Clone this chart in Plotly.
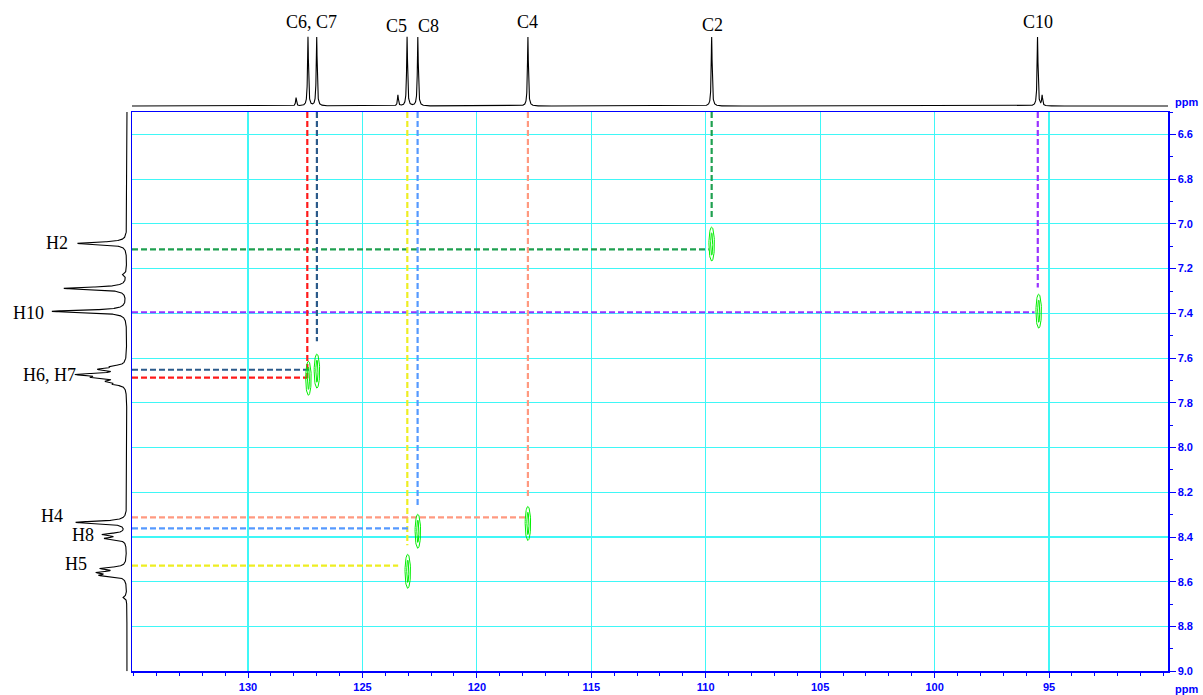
import numpy as np
import plotly.graph_objects as go

# ---------------- data ----------------
# 13C 1D spectrum (top) peak list: ppm, relative height
c_shift = [127.90, 127.38, 127.00, 123.45, 123.05, 122.58, 117.77, 109.74, 95.50, 95.30]
c_height = [0.12, 1.0, 1.0, 0.16, 1.0, 1.0, 1.0, 1.0, 1.0, 0.15]

# 1H 1D spectrum (left) peak list: ppm, relative height
h_shift = [7.087, 7.226, 7.288, 7.391, 7.637, 7.650, 7.673, 7.686, 7.704, 7.717,
           8.334, 8.388, 8.406, 8.540, 8.558, 8.571, 8.669]
h_height = [0.66, 0.05, 0.84, 1.0, 0.15, 0.32, 0.60, 0.35, 0.21, 0.13,
            0.68, 0.30, 0.27, 0.32, 0.33, 0.31, 0.05]

# HSQC cross peaks (C ppm, H ppm)
xpk_c = [109.74, 95.45, 127.36, 126.99, 122.58, 117.77, 123.02]
xpk_h = [7.090, 7.390, 7.690, 7.658, 8.374, 8.339, 8.553]

# correlation guide lines
guide_names = ["C2", "C10", "C6", "C7", "C5", "C8", "C4"]
guide_colors = ["#1fa050", "#9933ff", "#ff1a1a", "#2b5a8a", "#eeee22", "#5599ff", "#ff9980"]
guide_c = [109.74, 95.49, 127.41, 126.99, 123.04, 122.59, 117.77]      # vertical line x
guide_c_end = [6.971, 7.284, 7.690, 7.525, 8.437, 8.261, 8.217]        # vertical line ends (H ppm)
guide_h = [7.114, 7.395, 7.687, 7.652, 8.528, 8.361, 8.312]            # horizontal line y
guide_h_end = [109.87, 95.63, 127.42, 127.22, 123.44, 122.93, 117.77]  # horizontal line ends (C ppm)

x_ticks = [130, 125, 120, 115, 110, 105, 100, 95]
y_ticks = [6.6, 6.8, 7.0, 7.2, 7.4, 7.6, 7.8, 8.0, 8.2, 8.4, 8.6, 8.8, 9.0]

c_labels = ["C6, C7", "C5", "C8", "C4", "C2", "C10"]
h_labels = ["H2", "H10", "H6, H7", "H4", "H8", "H5"]

# ---------------- geometry ----------------
W = 1203
S = 0.991                 # vertical scale of the captured page
H = 701
X_RANGE = [135.07, 89.80]
Y_RANGE = [9.0, 6.5]
px = lambda v: v / W
py = lambda v: 1 - (v / S) / H

BLUE = "#0000ff"
GRID = "#3ff7f7"

fig = go.Figure()

# 13C spectrum line (Lorentzian lines from peak list)
cx = np.linspace(X_RANGE[0], X_RANGE[1], 14000)
cy = np.zeros_like(cx)
gc = 0.024
for s, h in zip(c_shift, c_height):
    cy += h * gc**2 / ((cx - s) ** 2 + gc**2)
fig.add_trace(go.Scatter(x=cx, y=cy, mode="lines", xaxis="x2", yaxis="y2",
                         line=dict(color="black", width=1.1), hoverinfo="skip", showlegend=False))

# 1H spectrum line
hy = np.linspace(Y_RANGE[1], Y_RANGE[0], 9000)
hx = np.zeros_like(hy)
gh = 0.006
for s, h in zip(h_shift, h_height):
    hx += h * gh**2 / ((hy - s) ** 2 + gh**2)
fig.add_trace(go.Scatter(x=hx, y=hy, mode="lines", xaxis="x3", yaxis="y3",
                         line=dict(color="black", width=1.1), hoverinfo="skip", showlegend=False))

# guide lines
for name, col, c0, ce, h0, he in zip(guide_names, guide_colors, guide_c, guide_c_end, guide_h, guide_h_end):
    xs = [c0, c0, None, X_RANGE[0], he]
    ys = [Y_RANGE[1], ce, None, h0, h0]
    fig.add_trace(go.Scatter(x=xs, y=ys, mode="lines", name=name,
                             line=dict(color=col, width=2.2, dash="6px,3px"),
                             hoverinfo="skip", showlegend=False))

# cross peak contours
t = np.linspace(0, 2 * np.pi, 60)
ex, ey = [], []
for c, h in zip(xpk_c, xpk_h):
    for rx, ry in [(0.12, 0.076), (0.045, 0.05)]:
        ex += list(c + rx * np.cos(t)) + [None]
        ey += list(h + ry * np.sin(t)) + [None]
fig.add_trace(go.Scatter(x=ex, y=ey, mode="lines", line=dict(color="#00ee00", width=1),
                         hoverinfo="skip", showlegend=False))

tickfont = dict(family="Arial", size=11, color=BLUE, weight="bold")

fig.update_layout(
    width=W, height=H, autosize=False,
    margin=dict(l=0, r=0, t=0, b=0),
    paper_bgcolor="white", plot_bgcolor="white",
    xaxis=dict(domain=[px(132), px(1168)], range=X_RANGE, anchor="y",
               tickvals=x_ticks, ticktext=[str(v) for v in x_ticks],
               showgrid=True, gridcolor=GRID, gridwidth=1.2,
               showline=True, linecolor=BLUE, linewidth=1.5, mirror=True,
               ticks="outside", ticklen=5, tickcolor=BLUE, tickwidth=1,
               minor=dict(dtick=1, ticks="outside", ticklen=3, tickcolor=BLUE, showgrid=False),
               tickfont=tickfont, zeroline=False),
    yaxis=dict(domain=[py(671), py(112)], range=Y_RANGE, anchor="x", side="right",
               tickvals=y_ticks, ticktext=[f"{v:.1f}" for v in y_ticks],
               showgrid=True, gridcolor=GRID, gridwidth=1.2,
               showline=True, linecolor=BLUE, linewidth=1.5, mirror=True,
               ticks="outside", ticklen=6, tickcolor=BLUE, tickwidth=1,
               minor=dict(dtick=0.1, tick0=6.5, ticks="outside", ticklen=3, tickcolor=BLUE, showgrid=False),
               tickfont=tickfont, zeroline=False),
    xaxis2=dict(domain=[px(132), px(1168)], range=X_RANGE, anchor="y2", matches="x",
                visible=False, showgrid=False),
    yaxis2=dict(domain=[py(112), py(20)], range=[-0.087, 1.246], anchor="x2",
                visible=False, showgrid=False),
    xaxis3=dict(domain=[px(8), px(132)], range=[1.59, -0.067], anchor="y3",
                visible=False, showgrid=False),
    yaxis3=dict(domain=[py(671), py(112)], range=Y_RANGE, anchor="x3", matches="y",
                visible=False, showgrid=False),
)

serif = dict(family="Liberation Serif", size=18, color="black")
c_pos = [(311, 22), (396, 26), (428, 26), (527, 22), (712, 25), (1038, 22)]
h_pos = [(57, 243), (28, 313), (49, 375), (52, 516), (83, 535), (76, 564)]
for txt, (x0, y0) in zip(c_labels, c_pos):
    fig.add_annotation(text=txt, x=px(x0), y=py(y0), xref="paper", yref="paper",
                       showarrow=False, font=serif, xanchor="center", yanchor="middle")
for txt, (x0, y0) in zip(h_labels, h_pos):
    fig.add_annotation(text=txt, x=px(x0), y=py(y0), xref="paper", yref="paper",
                       showarrow=False, font=serif, xanchor="center", yanchor="middle")

for y0 in (102, 689):
    fig.add_annotation(text="ppm", x=px(1186), y=py(y0), xref="paper", yref="paper",
                       showarrow=False, font=dict(family="Arial", size=11, color=BLUE, weight="bold"),
                       xanchor="center", yanchor="middle")

page_js = ("var d=document.documentElement, b=document.body;"
           "d.style.margin='0';d.style.padding='0';"
           "b.style.margin='0';b.style.padding='0';"
           "b.style.fontSize='0';b.style.lineHeight='0';")

fig.write_html("out.html", config={"displayModeBar": False, "staticPlot": True},
               post_script=page_js)
